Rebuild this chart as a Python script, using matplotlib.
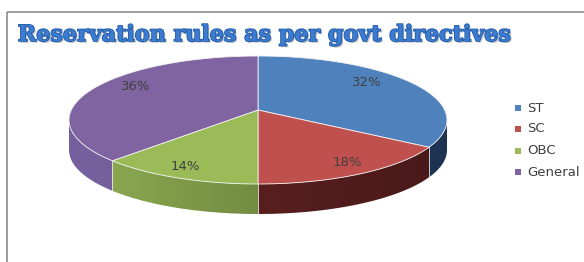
import numpy as np
import matplotlib
matplotlib.use("Agg")
import matplotlib.pyplot as plt
from matplotlib.patches import Polygon, Rectangle
from matplotlib.colors import LinearSegmentedColormap
import matplotlib.patheffects as pe

categories = ["ST", "SC", "OBC", "General"]
shares = [32, 18, 14, 36]
top_colors = ["#4F81BD", "#C0504D", "#9BBB59", "#8064A2"]
side_light = ["#26466c", "#6a2626", "#8fae53", "#76619e"]
side_dark = ["#1c3452", "#481818", "#566b31", "#6a5690"]
title = "Reservation rules as per govt directives"

# pie geometry in pixel units
cx, cy_rim, cy_apex = 258, 120, 110
rx, ry, depth = 189, 64, 30

fig = plt.figure(figsize=(5.84, 2.62), dpi=100)
ax = fig.add_axes([0, 0, 1, 1])
ax.set_xlim(0, 584)
ax.set_ylim(262, 0)
ax.axis("off")

# chart frame (only left/top visible)
ax.add_patch(Rectangle((6.5, 11.5), 600, 300, fill=False, ec="#8c8c8c", lw=1.2))


def rim(t):
    return cx + rx * np.cos(t), cy_rim - ry * np.sin(t)


fracs = np.array(shares) / sum(shares)
starts = np.pi / 2 - np.concatenate([[0], np.cumsum(fracs)[:-1]]) * 2 * np.pi
ends = starts - fracs * 2 * np.pi

grad = np.linspace(0, 1, 256).reshape(1, -1)

# side walls (front half only: angles between -pi and 0), with horizontal gradient
for i in range(len(shares)):
    lo, hi = min(starts[i], ends[i]), max(starts[i], ends[i])
    cmap = LinearSegmentedColormap.from_list(f"s{i}", [side_light[i], side_dark[i]])
    for off in (0, -2 * np.pi):
        l, h = max(lo + off, -np.pi), min(hi + off, 0)
        if h <= l:
            continue
        ts = np.linspace(l, h, 120)
        upper = [rim(t) for t in ts]
        lower = [(x, y + depth) for x, y in upper[::-1]]
        poly = Polygon(upper + lower, closed=True, fc="none", ec="none")
        ax.add_patch(poly)
        im = ax.imshow(grad, cmap=cmap, aspect="auto", interpolation="bilinear",
                       extent=(cx - rx, cx + rx, cy_rim + ry + depth + 2, cy_rim - 2))
        im.set_clip_path(poly)

# boundary lines on side walls at slice edges in the front half
for a in list(starts):
    t = (a + np.pi) % (2 * np.pi) - np.pi
    if -np.pi < t < 0:
        x, y = rim(t)
        ax.plot([x, x], [y, y + depth], color="#e8e8e8", lw=0.6)

# top faces
for i in range(len(shares)):
    ts = np.linspace(starts[i], ends[i], 200)
    pts = [(cx, cy_apex)] + [rim(t) for t in ts]
    ax.add_patch(Polygon(pts, closed=True, fc=top_colors[i], ec="#f2f2f2", lw=0.6))

ax.set_xlim(0, 584)
ax.set_ylim(262, 0)

# percentage labels
label_pos = [(367, 82), (347, 163), (185, 167), (136, 86)]
for (x, y), v in zip(label_pos, shares):
    ax.text(x, y, f"{v}%", ha="center", va="center", fontsize=9.5, color="#404040",
            family="DejaVu Sans")

# legend
leg_y = [108, 129, 151, 172]
for name, col, y in zip(categories, top_colors, leg_y):
    ax.add_patch(Rectangle((515, y - 3), 6, 6, fc=col, ec="none"))
    ax.text(527, y, name, ha="left", va="center", fontsize=9.5, color="#404040",
            family="DejaVu Sans")

# title
t = ax.text(264, 35, title, ha="center", va="center", fontsize=16, fontweight="bold",
            family="DejaVu Serif", color="#3d7bd0")
t.set_path_effects([pe.withSimplePatchShadow(offset=(1.2, -1.2), shadow_rgbFace="#9a9a9a", alpha=0.6),
                    pe.withStroke(linewidth=1.2, foreground="#1f5aa6")])

fig.savefig("out.png", dpi=100)
